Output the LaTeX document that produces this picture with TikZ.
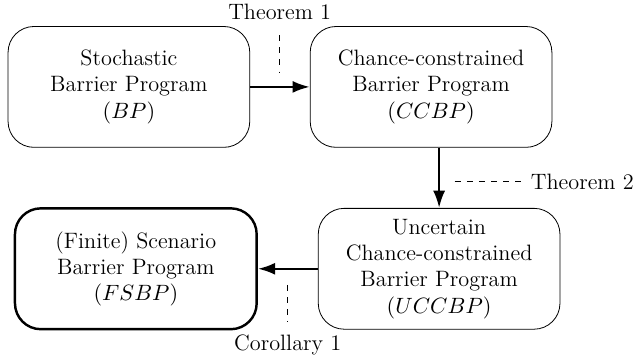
\documentclass[tikz,border=0pt]{standalone}
\usetikzlibrary{arrows.meta}

\begin{document}
\begin{tikzpicture}[font=\fontsize{11}{13}\selectfont,
	prog/.style={draw,rounded corners=0.45cm,minimum width=4.2cm,minimum height=2.1cm,align=center},
	link/.style={very thick,-{Latex[length=3mm,width=2.1mm]}}]
	\useasboundingbox (0,0) rectangle (11.19,-6.25);

	\node[prog] (bp) at (2.24,-1.51) {Stochastic\\Barrier Program\\$(BP)$};
	\node[prog] (ccbp) at (7.49,-1.51) {Chance-constrained\\Barrier Program\\$(CCBP)$};
	\node[prog] (uccbp) at (7.63,-4.67) {Uncertain\\Chance-constrained\\Barrier Program\\$(UCCBP)$};
	\node[prog,very thick] (fsbp) at (2.36,-4.67) {(Finite) Scenario\\Barrier Program\\$(FSBP)$};

	\draw[link] (bp) -- (ccbp);
	\draw[link] (ccbp.south -| uccbp.north) -- (uccbp.north);
	\draw[link] (uccbp) -- (fsbp);

	\node (thm1) at (4.86,-0.21) {Theorem 1};
	\coordinate (d1a) at (4.86,-0.61);
	\coordinate (d1b) at (4.86,-1.25);
	\draw[dashed] (d1a) -- (d1b);

	\node[anchor=west] (thm2) at (9.1,-3.16) {Theorem 2};
	\coordinate (d2a) at (7.90,-3.16);
	\draw[dashed] (d2a) -- (thm2.west);

	\node (cor1) at (5.0,-6.0) {Corollary 1};
	\coordinate (d3a) at (5.0,-4.95);
	\coordinate (d3b) at (5.0,-5.59);
	\draw[dashed] (d3a) -- (d3b);
\end{tikzpicture}
\end{document}
